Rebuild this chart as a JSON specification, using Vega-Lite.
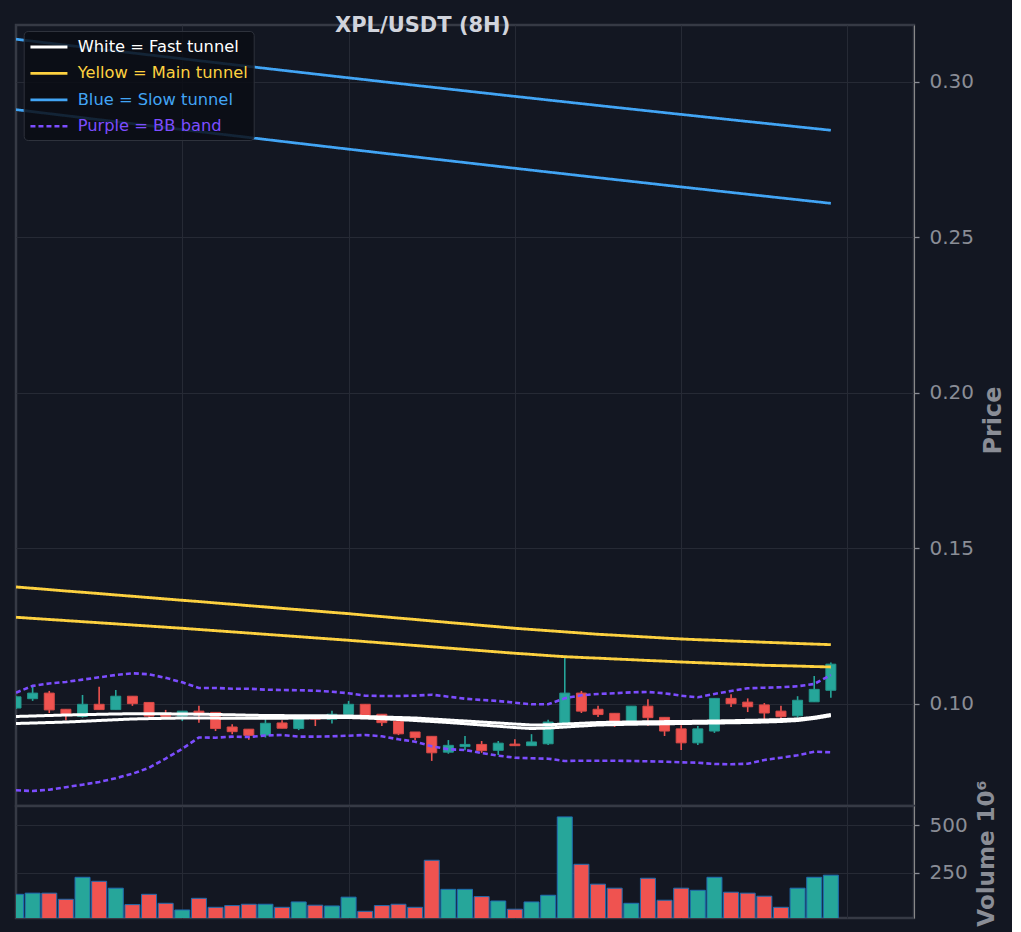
{
"$schema": "https://vega.github.io/schema/vega-lite/v6.json",
"background": "#131722",
"padding": {"left": 14, "top": 15, "right": 5, "bottom": 0},
"bounds": "flush",
"title": {"text": "XPL/USDT (8H)", "anchor": "start", "frame": "group", "dx": 319, "dy": 22, "offset": -7.7, "baseline": "alphabetic", "fontSize": 21, "fontWeight": "bold", "color": "#d1d4dc", "font": "DejaVu Sans"},
"spacing": 0,
"datasets": {
"ohlc": [
{"i":0,"o":0.0987,"h":0.1026,"l":0.0984,"c":0.1023,"v":138},
{"i":1,"o":0.1017,"h":0.1055,"l":0.1010,"c":0.1035,"v":144},
{"i":2,"o":0.1035,"h":0.1042,"l":0.0971,"c":0.0981,"v":144},
{"i":3,"o":0.0983,"h":0.0983,"l":0.0948,"c":0.0964,"v":112},
{"i":4,"o":0.0960,"h":0.1029,"l":0.0956,"c":0.0999,"v":227},
{"i":5,"o":0.0999,"h":0.1055,"l":0.0981,"c":0.0982,"v":206},
{"i":6,"o":0.0982,"h":0.1045,"l":0.0981,"c":0.1025,"v":170},
{"i":7,"o":0.1025,"h":0.1025,"l":0.0994,"c":0.1001,"v":84},
{"i":8,"o":0.1005,"h":0.1005,"l":0.0958,"c":0.0961,"v":138},
{"i":9,"o":0.0966,"h":0.0981,"l":0.0954,"c":0.0960,"v":91},
{"i":10,"o":0.0961,"h":0.0977,"l":0.0945,"c":0.0977,"v":56},
{"i":11,"o":0.0977,"h":0.0994,"l":0.0940,"c":0.0967,"v":117},
{"i":12,"o":0.0973,"h":0.0973,"l":0.0913,"c":0.0921,"v":70},
{"i":13,"o":0.0926,"h":0.0935,"l":0.0903,"c":0.0911,"v":79},
{"i":14,"o":0.0919,"h":0.0919,"l":0.0885,"c":0.0899,"v":86},
{"i":15,"o":0.0900,"h":0.0951,"l":0.0892,"c":0.0938,"v":86},
{"i":16,"o":0.0939,"h":0.0948,"l":0.0922,"c":0.0922,"v":70},
{"i":17,"o":0.0921,"h":0.0956,"l":0.0916,"c":0.0956,"v":98},
{"i":18,"o":0.0960,"h":0.0961,"l":0.0929,"c":0.0951,"v":81},
{"i":19,"o":0.0951,"h":0.0978,"l":0.0937,"c":0.0967,"v":77},
{"i":20,"o":0.0967,"h":0.1010,"l":0.0967,"c":0.0999,"v":123},
{"i":21,"o":0.0999,"h":0.0999,"l":0.0961,"c":0.0961,"v":49},
{"i":22,"o":0.0967,"h":0.0967,"l":0.0929,"c":0.0940,"v":79},
{"i":23,"o":0.0945,"h":0.0945,"l":0.0900,"c":0.0904,"v":86},
{"i":24,"o":0.0910,"h":0.0910,"l":0.0883,"c":0.0892,"v":70},
{"i":25,"o":0.0896,"h":0.0896,"l":0.0817,"c":0.0843,"v":316},
{"i":26,"o":0.0845,"h":0.0884,"l":0.0840,"c":0.0867,"v":164},
{"i":27,"o":0.0863,"h":0.0897,"l":0.0851,"c":0.0870,"v":164},
{"i":28,"o":0.0870,"h":0.0881,"l":0.0843,"c":0.0850,"v":126},
{"i":29,"o":0.0851,"h":0.0881,"l":0.0836,"c":0.0874,"v":103},
{"i":30,"o":0.0871,"h":0.0887,"l":0.0866,"c":0.0866,"v":60},
{"i":31,"o":0.0866,"h":0.0903,"l":0.0866,"c":0.0878,"v":98},
{"i":32,"o":0.0872,"h":0.0949,"l":0.0868,"c":0.0942,"v":133},
{"i":33,"o":0.0937,"h":0.1151,"l":0.0937,"c":0.1035,"v":543},
{"i":34,"o":0.1035,"h":0.1042,"l":0.0971,"c":0.0977,"v":295},
{"i":35,"o":0.0983,"h":0.0994,"l":0.0958,"c":0.0966,"v":191},
{"i":36,"o":0.0970,"h":0.0970,"l":0.0926,"c":0.0942,"v":170},
{"i":37,"o":0.0943,"h":0.0993,"l":0.0943,"c":0.0993,"v":91},
{"i":38,"o":0.0993,"h":0.1015,"l":0.0929,"c":0.0956,"v":222},
{"i":39,"o":0.0957,"h":0.0957,"l":0.0897,"c":0.0913,"v":107},
{"i":40,"o":0.0920,"h":0.0932,"l":0.0852,"c":0.0875,"v":170},
{"i":41,"o":0.0875,"h":0.0929,"l":0.0868,"c":0.0920,"v":159},
{"i":42,"o":0.0913,"h":0.1018,"l":0.0907,"c":0.1018,"v":227},
{"i":43,"o":0.1018,"h":0.1031,"l":0.0990,"c":0.1001,"v":149},
{"i":44,"o":0.1006,"h":0.1018,"l":0.0974,"c":0.0991,"v":144},
{"i":45,"o":0.0997,"h":0.1003,"l":0.0951,"c":0.0971,"v":128},
{"i":46,"o":0.0977,"h":0.0994,"l":0.0951,"c":0.0959,"v":70},
{"i":47,"o":0.0962,"h":0.1025,"l":0.0956,"c":0.1012,"v":170},
{"i":48,"o":0.1007,"h":0.1090,"l":0.1007,"c":0.1047,"v":227},
{"i":49,"o":0.1044,"h":0.1133,"l":0.1020,"c":0.1128,"v":238}
],
"bands": [
{"i":0,"b":"u","fast":0.09598,"main":0.13762,"slow":0.31373,"bb":0.10363},
{"i":0,"b":"l","fast":0.09372,"main":0.12788,"slow":0.29109,"bb":0.07225},
{"i":1,"b":"u","fast":0.09614,"main":0.13720,"slow":0.31309,"bb":0.10583},
{"i":1,"b":"l","fast":0.09388,"main":0.12752,"slow":0.29044,"bb":0.07203},
{"i":2,"b":"u","fast":0.09630,"main":0.13678,"slow":0.31246,"bb":0.10660},
{"i":2,"b":"l","fast":0.09404,"main":0.12717,"slow":0.28979,"bb":0.07244},
{"i":3,"b":"u","fast":0.09646,"main":0.13633,"slow":0.31183,"bb":0.10708},
{"i":3,"b":"l","fast":0.09420,"main":0.12682,"slow":0.28915,"bb":0.07325},
{"i":4,"b":"u","fast":0.09655,"main":0.13592,"slow":0.31120,"bb":0.10783},
{"i":4,"b":"l","fast":0.09443,"main":0.12646,"slow":0.28850,"bb":0.07405},
{"i":5,"b":"u","fast":0.09668,"main":0.13550,"slow":0.31057,"bb":0.10857},
{"i":5,"b":"l","fast":0.09469,"main":0.12611,"slow":0.28785,"bb":0.07492},
{"i":6,"b":"u","fast":0.09678,"main":0.13505,"slow":0.30994,"bb":0.10932},
{"i":6,"b":"l","fast":0.09494,"main":0.12576,"slow":0.28722,"bb":0.07615},
{"i":7,"b":"u","fast":0.09688,"main":0.13463,"slow":0.30932,"bb":0.10987},
{"i":7,"b":"l","fast":0.09517,"main":0.12540,"slow":0.28658,"bb":0.07755},
{"i":8,"b":"u","fast":0.09688,"main":0.13421,"slow":0.30869,"bb":0.10955},
{"i":8,"b":"l","fast":0.09530,"main":0.12505,"slow":0.28594,"bb":0.07950},
{"i":9,"b":"u","fast":0.09684,"main":0.13376,"slow":0.30807,"bb":0.10840},
{"i":9,"b":"l","fast":0.09540,"main":0.12469,"slow":0.28530,"bb":0.08245},
{"i":10,"b":"u","fast":0.09678,"main":0.13334,"slow":0.30745,"bb":0.10695},
{"i":10,"b":"l","fast":0.09549,"main":0.12434,"slow":0.28467,"bb":0.08560},
{"i":11,"b":"u","fast":0.09672,"main":0.13293,"slow":0.30682,"bb":0.10514},
{"i":11,"b":"l","fast":0.09549,"main":0.12395,"slow":0.28403,"bb":0.08923},
{"i":12,"b":"u","fast":0.09662,"main":0.13248,"slow":0.30621,"bb":0.10514},
{"i":12,"b":"l","fast":0.09546,"main":0.12357,"slow":0.28340,"bb":0.08916},
{"i":13,"b":"u","fast":0.09652,"main":0.13206,"slow":0.30559,"bb":0.10492},
{"i":13,"b":"l","fast":0.09543,"main":0.12318,"slow":0.28277,"bb":0.08949},
{"i":14,"b":"u","fast":0.09639,"main":0.13161,"slow":0.30497,"bb":0.10492},
{"i":14,"b":"l","fast":0.09540,"main":0.12280,"slow":0.28214,"bb":0.08939},
{"i":15,"b":"u","fast":0.09630,"main":0.13119,"slow":0.30436,"bb":0.10460},
{"i":15,"b":"l","fast":0.09540,"main":0.12241,"slow":0.28151,"bb":0.08987},
{"i":16,"b":"u","fast":0.09626,"main":0.13074,"slow":0.30375,"bb":0.10450},
{"i":16,"b":"l","fast":0.09543,"main":0.12203,"slow":0.28088,"bb":0.09003},
{"i":17,"b":"u","fast":0.09623,"main":0.13032,"slow":0.30314,"bb":0.10441},
{"i":17,"b":"l","fast":0.09549,"main":0.12164,"slow":0.28025,"bb":0.08949},
{"i":18,"b":"u","fast":0.09620,"main":0.12990,"slow":0.30253,"bb":0.10428},
{"i":18,"b":"l","fast":0.09556,"main":0.12125,"slow":0.27963,"bb":0.08949},
{"i":19,"b":"u","fast":0.09617,"main":0.12945,"slow":0.30192,"bb":0.10395},
{"i":19,"b":"l","fast":0.09562,"main":0.12087,"slow":0.27900,"bb":0.08961},
{"i":20,"b":"u","fast":0.09614,"main":0.12904,"slow":0.30132,"bb":0.10344},
{"i":20,"b":"l","fast":0.09565,"main":0.12048,"slow":0.27838,"bb":0.08981},
{"i":21,"b":"u","fast":0.09598,"main":0.12855,"slow":0.30072,"bb":0.10267},
{"i":21,"b":"l","fast":0.09549,"main":0.12006,"slow":0.27776,"bb":0.09003},
{"i":22,"b":"u","fast":0.09581,"main":0.12810,"slow":0.30011,"bb":0.10257},
{"i":22,"b":"l","fast":0.09527,"main":0.11965,"slow":0.27714,"bb":0.08961},
{"i":23,"b":"u","fast":0.09565,"main":0.12762,"slow":0.29951,"bb":0.10257},
{"i":23,"b":"l","fast":0.09501,"main":0.11923,"slow":0.27653,"bb":0.08865},
{"i":24,"b":"u","fast":0.09549,"main":0.12717,"slow":0.29891,"bb":0.10267},
{"i":24,"b":"l","fast":0.09469,"main":0.11881,"slow":0.27591,"bb":0.08788},
{"i":25,"b":"u","fast":0.09517,"main":0.12669,"slow":0.29832,"bb":0.10299},
{"i":25,"b":"l","fast":0.09437,"main":0.11839,"slow":0.27529,"bb":0.08640},
{"i":26,"b":"u","fast":0.09485,"main":0.12621,"slow":0.29772,"bb":0.10235},
{"i":26,"b":"l","fast":0.09404,"main":0.11797,"slow":0.27468,"bb":0.08543},
{"i":27,"b":"u","fast":0.09453,"main":0.12576,"slow":0.29713,"bb":0.10170},
{"i":27,"b":"l","fast":0.09366,"main":0.11756,"slow":0.27407,"bb":0.08521},
{"i":28,"b":"u","fast":0.09420,"main":0.12527,"slow":0.29653,"bb":0.10129},
{"i":28,"b":"l","fast":0.09324,"main":0.11714,"slow":0.27346,"bb":0.08424},
{"i":29,"b":"u","fast":0.09388,"main":0.12482,"slow":0.29594,"bb":0.10096},
{"i":29,"b":"l","fast":0.09285,"main":0.11672,"slow":0.27285,"bb":0.08338},
{"i":30,"b":"u","fast":0.09356,"main":0.12434,"slow":0.29535,"bb":0.10042},
{"i":30,"b":"l","fast":0.09243,"main":0.11630,"slow":0.27224,"bb":0.08273},
{"i":31,"b":"u","fast":0.09324,"main":0.12395,"slow":0.29477,"bb":0.09990},
{"i":31,"b":"l","fast":0.09211,"main":0.11595,"slow":0.27163,"bb":0.08254},
{"i":32,"b":"u","fast":0.09330,"main":0.12357,"slow":0.29418,"bb":0.09990},
{"i":32,"b":"l","fast":0.09227,"main":0.11556,"slow":0.27103,"bb":0.08241},
{"i":33,"b":"u","fast":0.09356,"main":0.12318,"slow":0.29360,"bb":0.10186},
{"i":33,"b":"l","fast":0.09259,"main":0.11521,"slow":0.27043,"bb":0.08167},
{"i":34,"b":"u","fast":0.09379,"main":0.12280,"slow":0.29301,"bb":0.10280},
{"i":34,"b":"l","fast":0.09292,"main":0.11495,"slow":0.26982,"bb":0.08177},
{"i":35,"b":"u","fast":0.09404,"main":0.12241,"slow":0.29243,"bb":0.10322},
{"i":35,"b":"l","fast":0.09324,"main":0.11473,"slow":0.26922,"bb":0.08177},
{"i":36,"b":"u","fast":0.09414,"main":0.12212,"slow":0.29185,"bb":0.10344},
{"i":36,"b":"l","fast":0.09337,"main":0.11447,"slow":0.26862,"bb":0.08177},
{"i":37,"b":"u","fast":0.09420,"main":0.12180,"slow":0.29127,"bb":0.10376},
{"i":37,"b":"l","fast":0.09350,"main":0.11424,"slow":0.26803,"bb":0.08167},
{"i":38,"b":"u","fast":0.09427,"main":0.12151,"slow":0.29070,"bb":0.10386},
{"i":38,"b":"l","fast":0.09356,"main":0.11399,"slow":0.26743,"bb":0.08158},
{"i":39,"b":"u","fast":0.09433,"main":0.12119,"slow":0.29012,"bb":0.10344},
{"i":39,"b":"l","fast":0.09362,"main":0.11376,"slow":0.26683,"bb":0.08145},
{"i":40,"b":"u","fast":0.09437,"main":0.12090,"slow":0.28955,"bb":0.10267},
{"i":40,"b":"l","fast":0.09372,"main":0.11350,"slow":0.26624,"bb":0.08125},
{"i":41,"b":"u","fast":0.09443,"main":0.12067,"slow":0.28898,"bb":0.10215},
{"i":41,"b":"l","fast":0.09379,"main":0.11328,"slow":0.26565,"bb":0.08113},
{"i":42,"b":"u","fast":0.09453,"main":0.12048,"slow":0.28841,"bb":0.10322},
{"i":42,"b":"l","fast":0.09388,"main":0.11309,"slow":0.26506,"bb":0.08071},
{"i":43,"b":"u","fast":0.09462,"main":0.12026,"slow":0.28784,"bb":0.10418},
{"i":43,"b":"l","fast":0.09395,"main":0.11286,"slow":0.26447,"bb":0.08061},
{"i":44,"b":"u","fast":0.09475,"main":0.12006,"slow":0.28727,"bb":0.10505},
{"i":44,"b":"l","fast":0.09404,"main":0.11267,"slow":0.26388,"bb":0.08080},
{"i":45,"b":"u","fast":0.09485,"main":0.11984,"slow":0.28671,"bb":0.10524},
{"i":45,"b":"l","fast":0.09420,"main":0.11244,"slow":0.26330,"bb":0.08199},
{"i":46,"b":"u","fast":0.09498,"main":0.11965,"slow":0.28615,"bb":0.10537},
{"i":46,"b":"l","fast":0.09437,"main":0.11232,"slow":0.26271,"bb":0.08273},
{"i":47,"b":"u","fast":0.09517,"main":0.11945,"slow":0.28558,"bb":0.10569},
{"i":47,"b":"l","fast":0.09469,"main":0.11219,"slow":0.26213,"bb":0.08350},
{"i":48,"b":"u","fast":0.09572,"main":0.11926,"slow":0.28502,"bb":0.10643},
{"i":48,"b":"l","fast":0.09533,"main":0.11203,"slow":0.26155,"bb":0.08466},
{"i":49,"b":"u","fast":0.09662,"main":0.11907,"slow":0.28446,"bb":0.10932},
{"i":49,"b":"l","fast":0.09623,"main":0.11190,"slow":0.26096,"bb":0.08447}
]
},
"vconcat": [
{
"width": 898,
"height": 781,
"layer": [
{
"data": {"name": "ohlc"},
"mark": {"type": "rule", "strokeWidth": 1.6, "clip": true},
"encoding": {
"x": {"field": "i", "type": "quantitative", "scale": {"domain": [0, 54], "nice": false, "zero": false, "padding": 0}, "axis": {"values": [10, 20, 30, 40, 50], "labels": false, "ticks": false, "domain": false, "title": null, "grid": true}},
"y": {"field": "l", "type": "quantitative", "scale": {"domain": [0.0672, 0.3183], "nice": false, "zero": false}, "axis": {"orient": "right", "values": [0.1, 0.15, 0.2, 0.25, 0.3], "format": ".2f", "title": "Price", "titleAngle": 270, "titleX": 86, "titleY": 395, "titleAlign": "center", "titleBaseline": "alphabetic", "titleFontSize": 24, "tickSize": 5, "labelPadding": 10, "grid": true}},
"y2": {"field": "h"},
"color": {"condition": {"test": "datum.c >= datum.o", "value": "#26a69a"}, "value": "#ef5350"}
}
},
{
"data": {"name": "ohlc"},
"mark": {"type": "bar", "width": 10, "strokeWidth": 1, "clip": true},
"encoding": {
"x": {"field": "i", "type": "quantitative"},
"y": {"field": "o", "type": "quantitative"},
"y2": {"field": "c"},
"color": {"condition": {"test": "datum.c >= datum.o", "value": "#26a69a"}, "value": "#ef5350"},
"stroke": {"condition": {"test": "datum.c >= datum.o", "value": "#22968b"}, "value": "#d94a47"}
}
},
{
"data": {"name": "bands"},
"transform": [{"fold": ["fast", "main", "slow", "bb"], "as": ["series", "price"]}],
"mark": {"type": "line", "clip": true},
"encoding": {
"x": {"field": "i", "type": "quantitative"},
"y": {"field": "price", "type": "quantitative"},
"detail": {"field": "b"},
"color": {"field": "series", "type": "nominal", "scale": {"domain": ["fast", "main", "slow", "bb"], "range": ["#ffffff", "#fdd140", "#42a5f5", "#7c4dff"]},
"legend": {"title": null, "orient": "none", "legendX": 7.7, "legendY": 6, "labelExpr": "datum.value == 'fast' ? 'White = Fast tunnel' : datum.value == 'main' ? 'Yellow = Main tunnel' : datum.value == 'slow' ? 'Blue = Slow tunnel' : 'Purple = BB band'", "labelColor": {"expr": "datum.value == 'fast' ? '#ffffff' : datum.value == 'main' ? '#fdd140' : datum.value == 'slow' ? '#42a5f5' : '#7c4dff'"}}},
"strokeDash": {"field": "series", "type": "nominal", "scale": {"domain": ["fast", "main", "slow", "bb"], "range": [[1, 0], [1, 0], [1, 0], [5, 3]]},
"legend": {"title": null, "orient": "none", "legendX": 7.7, "legendY": 6, "labelExpr": "datum.value == 'fast' ? 'White = Fast tunnel' : datum.value == 'main' ? 'Yellow = Main tunnel' : datum.value == 'slow' ? 'Blue = Slow tunnel' : 'Purple = BB band'", "labelColor": {"expr": "datum.value == 'fast' ? '#ffffff' : datum.value == 'main' ? '#fdd140' : datum.value == 'slow' ? '#42a5f5' : '#7c4dff'"}}},
"strokeWidth": {"field": "series", "type": "nominal", "scale": {"domain": ["fast", "main", "slow", "bb"], "range": [3, 2.6, 2.2, 1.5]}, "legend": null}
}
}
]
},
{
"width": 898,
"height": 112,
"data": {"name": "ohlc"},
"mark": {"type": "bar", "width": 15, "stroke": "#1f6cb0", "strokeWidth": 1, "clip": true},
"encoding": {
"x": {"field": "i", "type": "quantitative", "scale": {"domain": [0, 54], "nice": false, "zero": false, "padding": 0}, "axis": {"values": [10, 20, 30, 40, 50], "labels": false, "ticks": false, "domain": false, "title": null, "grid": true}},
"y": {"field": "v", "type": "quantitative", "scale": {"domain": [14, 600], "nice": false, "zero": false}, "axis": {"orient": "right", "values": [250, 500], "format": "d", "title": "Volume  10⁶", "titleAngle": 270, "titleX": 79, "titleY": 47, "titleAlign": "center", "titleBaseline": "alphabetic", "titleFontSize": 23, "tickSize": 5, "labelPadding": 10, "grid": true}},
"color": {"condition": {"test": "datum.c >= datum.o", "value": "#26a69a"}, "value": "#ef5350"}
}
}
],
"config": {
"font": "DejaVu Sans",
"view": {"stroke": "#363a45", "strokeWidth": 2.5, "fill": "#131722"},
"axis": {"gridColor": "#262a35", "gridWidth": 1, "tickColor": "#8a8d96", "tickWidth": 1.3, "labelColor": "#8a8d96", "labelFontSize": 20, "labelFont": "DejaVu Sans", "titleColor": "#8a8d96", "titleFont": "DejaVu Sans", "titleFontWeight": "bold"},
"legend": {"padding": 5, "rowPadding": 6.4, "symbolType": "M-1,0H3", "symbolSize": 342, "symbolStrokeWidth": 3.5, "labelFontSize": 16.3, "labelFont": "DejaVu Sans", "labelOffset": 27, "labelLimit": 400, "fillColor": "rgba(10,13,20,0.85)", "strokeColor": "#2e323c", "cornerRadius": 4, "symbolOpacity": 1}
}
}
